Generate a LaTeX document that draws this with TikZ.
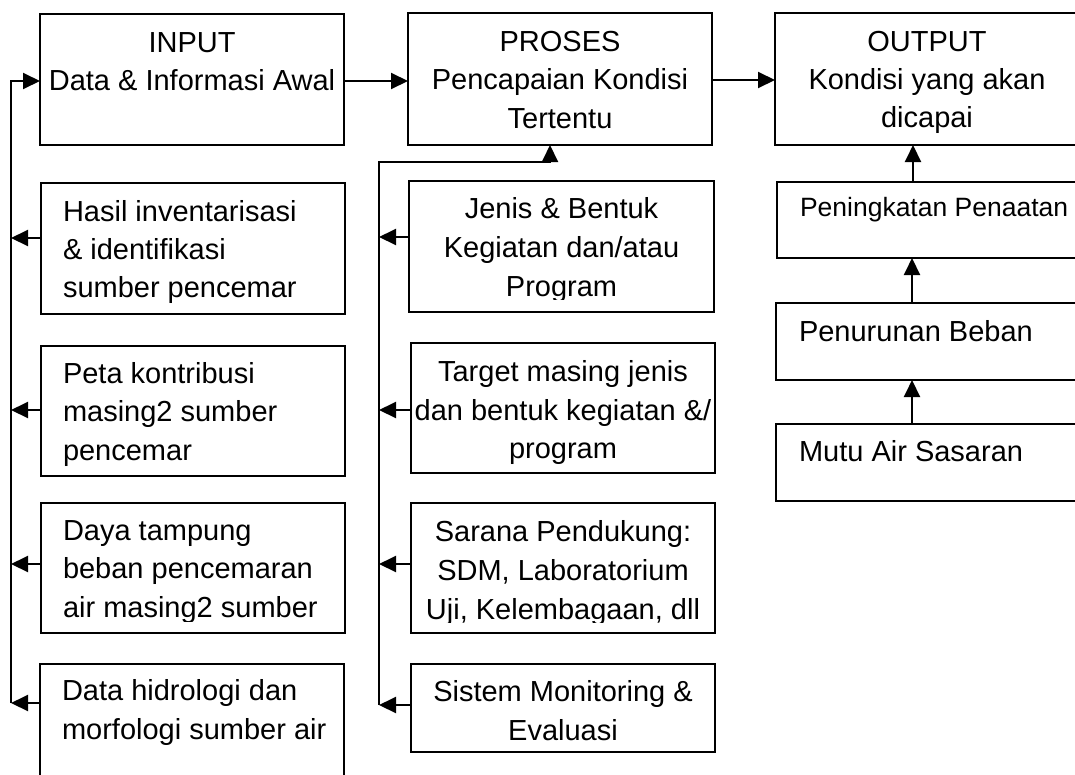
\documentclass[tikz,border=0pt]{standalone}
\usepackage{fontspec}
\setmainfont{Liberation Sans}
\usetikzlibrary{arrows.meta}
\begin{document}
\begin{tikzpicture}[x=1pt,y=-1pt,line width=2pt,
  box/.style={draw,rectangle,inner sep=0pt,outer sep=0pt,anchor=north west},
  txt/.style={inner sep=0pt,font=\fontsize{29}{38.5}\selectfont},
  smalltxt/.style={inner sep=0pt,font=\fontsize{26.5}{32}\selectfont},
  arr/.style={-{Triangle[length=17pt,width=16pt]}}]
\useasboundingbox (0,0) rectangle (1075,774);
\clip (0,0) rectangle (1075,774);

% ---------- boxes ----------
\node[box,minimum width=304pt,minimum height=131pt] (input)  at (40,14) {};
\node[box,minimum width=304pt,minimum height=132pt] (proses) at (408,13) {};
\node[box,minimum width=304pt,minimum height=132pt] (output) at (775,13) {};

\node[box,minimum width=304pt,minimum height=131pt] (hasil) at (41,183) {};
\node[box,minimum width=304pt,minimum height=130pt] (peta)  at (41,346) {};
\node[box,minimum width=304pt,minimum height=130pt] (daya)  at (41,503) {};
\node[box,minimum width=304pt,minimum height=136pt] (hidro) at (40,664) {};

\node[box,minimum width=305pt,minimum height=131pt] (jenis)  at (409,181) {};
\node[box,minimum width=304pt,minimum height=130pt] (target) at (411,343) {};
\node[box,minimum width=304pt,minimum height=130pt] (sarana) at (411,503) {};
\node[box,minimum width=304pt,minimum height=88pt]  (sistem) at (411,664) {};

\node[box,minimum width=302pt,minimum height=76pt] (ningkat) at (777,182) {};
\node[box,minimum width=303pt,minimum height=77pt] (turun)   at (776,303) {};
\node[box,minimum width=303pt,minimum height=77pt] (mutu)    at (776,424) {};

% ---------- texts ----------
\node[txt,anchor=base] (input1) at (192,52)   {INPUT};
\node[txt,anchor=base] (input2) at (192,90.5) {Data \& Informasi Awal};

\node[txt,anchor=base] (proses1) at (560,51.5) {PROSES};
\node[txt,anchor=base] (proses2) at (560,89.5) {Pencapaian Kondisi};
\node[txt,anchor=base] (proses3) at (560,128)  {Tertentu};

\node[txt,anchor=base] (output1) at (927,51.5)  {OUTPUT};
\node[txt,anchor=base] (output2) at (927,89.5)  {Kondisi yang akan};
\node[txt,anchor=base] (output3) at (927,127.5) {dicapai};

\node[txt,anchor=base west] (hasil1) at (62,221.5) {Hasil inventarisasi};
\node[txt,anchor=base west] (hasil2) at (62,259.5) {\& identifikasi};
\node[txt,anchor=base west] (hasil3) at (62,297)   {sumber pencemar};

\node[txt,anchor=base west] (peta1) at (62,383.5) {Peta kontribusi};
\node[txt,anchor=base west] (peta2) at (62,421.5) {masing2 sumber};
\node[txt,anchor=base west] (peta3) at (62,460)   {pencemar};

\begin{scope}
\clip (41,503) rectangle (345,621.5);
\node[txt,anchor=base west] (daya1) at (62,540)   {Daya tampung};
\node[txt,anchor=base west] (daya2) at (62,578.5) {beban pencemaran};
\node[txt,anchor=base west] (daya3) at (62,617)   {air masing2 sumber};
\end{scope}

\node[txt,anchor=base west] (hidro1) at (61,700) {Data hidrologi dan};
\node[txt,anchor=base west] (hidro2) at (61,739) {morfologi sumber air};

\begin{scope}
\clip (409,181) rectangle (714,299.5);
\node[txt,anchor=base] (jenis1) at (561.5,218.5) {Jenis \& Bentuk};
\node[txt,anchor=base] (jenis2) at (561.5,257)   {Kegiatan dan/atau};
\node[txt,anchor=base] (jenis3) at (561.5,296.5) {Program};
\end{scope}

\node[txt,anchor=base] (target1) at (563,381.5) {Target masing jenis};
\node[txt,anchor=base] (target2) at (563,420)   {dan bentuk kegiatan \&/};
\node[txt,anchor=base] (target3) at (563,458.5) {program};

\begin{scope}
\clip (411,503) rectangle (715,622);
\node[txt,anchor=base] (sarana1) at (563,541.5) {Sarana Pendukung:};
\node[txt,anchor=base] (sarana2) at (563,580)   {SDM, Laboratorium};
\node[txt,anchor=base] (sarana3) at (563,619)   {Uji, Kelembagaan, dll};
\end{scope}

\node[txt,anchor=base] (sistem1) at (563,701.5) {Sistem Monitoring \&};
\node[txt,anchor=base] (sistem2) at (563,740)   {Evaluasi};

\node[smalltxt,anchor=base west] (ningkat1) at (799,216.5) {Peningkatan Penaatan};
\node[txt,anchor=base west] (turun1) at (798,341.5) {Penurunan Beban};
\node[txt,anchor=base west] (mutu1)  at (798,461.5) {Mutu Air Sasaran};

% ---------- connectors ----------
\coordinate (Ltop) at (11,81);
\coordinate (Lbot) at (11,703);
\coordinate (Mtop) at (379,162);
\coordinate (Mbot) at (379,705);
\coordinate (Mturn) at (550,162);

\draw[arr] (input.east |- Ltop) -- (proses.west |- Ltop);
\draw[arr] ([yshift=-1pt]proses.east) -- ([yshift=-1pt]proses.east -| output.west);

\draw[arr] (Lbot) -- (Ltop) -- (input.west |- Ltop);
\draw[arr] ([yshift=10.5pt]hasil.west) -- ([yshift=10.5pt]hasil.west -| Ltop);
\draw[arr] ([yshift=1pt]peta.west) -- ([yshift=1pt]peta.west -| Ltop);
\draw[arr] ([yshift=4pt]daya.west) -- ([yshift=4pt]daya.west -| Ltop);
\draw[arr] ([yshift=29pt]hidro.west) -- (Lbot);

\draw[arr] (Mbot) -- (Mtop) -- (Mturn) -- (Mturn |- proses.south);
\draw[arr] ([yshift=9.5pt]jenis.west) -- ([yshift=9.5pt]jenis.west -| Mtop);
\draw[arr] ([yshift=-2pt]target.west) -- ([yshift=-2pt]target.west -| Mtop);
\draw[arr] ([yshift=4pt]sarana.west) -- ([yshift=4pt]sarana.west -| Mtop);
\draw[arr] ([yshift=3pt]sistem.west) -- (Mbot);

\draw[arr] ([xshift=-15pt]ningkat.north) -- ([xshift=-15pt]ningkat.north |- output.south);
\draw[arr] ([xshift=-15.5pt]turun.north) -- ([xshift=-15.5pt]turun.north |- ningkat.south);
\draw[arr] ([xshift=-15.5pt]mutu.north) -- ([xshift=-15.5pt]mutu.north |- turun.south);
\end{tikzpicture}
\end{document}
